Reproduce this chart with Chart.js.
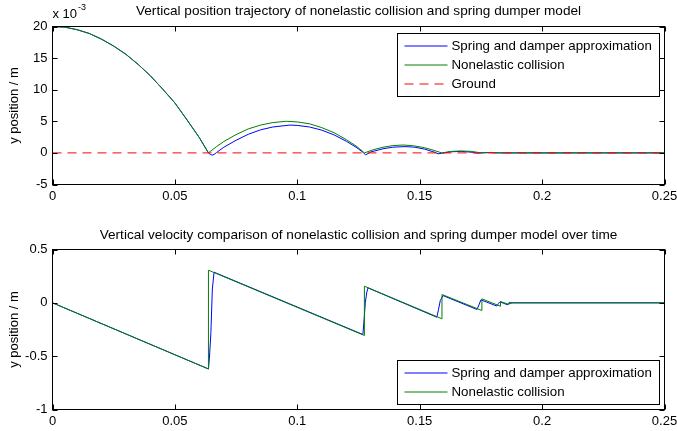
<!DOCTYPE html>
<html>
<head>
<meta charset="utf-8">
<script src="https://cdn.jsdelivr.net/npm/chart.js"></script>
<style>
body { margin: 0; background: #fff; }
canvas { position: absolute; left: 0; }
#posChart { top: 0; }
#velChart { top: 216px; }
</style>
</head>
<body>
<canvas id="posChart" width="677" height="216"></canvas>
<canvas id="velChart" width="677" height="215"></canvas>
<script>
// ############################################ Data #############################################
// time in s, position in 1e-3 m, velocity in m/s

const seriesNames = ['Spring and damper approximation', 'Nonelastic collision', 'Ground'];

const xTicks = [0, 0.05, 0.1, 0.15, 0.2, 0.25];
const xTickLabels = ['0', '0.05', '0.1', '0.15', '0.2', '0.25'];
const posTicks = [-5, 0, 5, 10, 15, 20];
const posTickLabels = ['-5', '0', '5', '10', '15', '20'];
const velTicks = [-1, -0.5, 0, 0.5];
const velTickLabels = ['-1', '-0.5', '0', '0.5'];

const posTimeNonelastic = [0, 0.005, 0.01, 0.015, 0.02, 0.025, 0.03, 0.035, 0.04, 0.045, 0.05, 0.055, 0.06, 0.0637,
    0.067, 0.07, 0.075, 0.08, 0.085, 0.09, 0.0955, 0.1, 0.105, 0.11, 0.115, 0.12, 0.124, 0.1274,
    0.131, 0.135, 0.139, 0.1432, 0.147, 0.151, 0.155, 0.159,
    0.163, 0.167, 0.171, 0.1752, 0.179, 0.183, 0.185, 0.187, 0.25];
const posNonelastic = [20, 19.9, 19.5, 18.9, 18.0, 16.9, 15.6, 14.0, 12.2, 10.1, 7.9, 5.2, 2.4, 0,
    1.0, 1.8, 2.9, 3.8, 4.4, 4.8, 5.0, 4.9, 4.6, 4.0, 3.2, 2.1, 1.1, 0,
    0.5, 0.9, 1.15, 1.25, 1.15, 0.9, 0.5, 0,
    0.24, 0.31, 0.24, 0, 0.08, 0, 0.02, 0, 0];

const posTimeSpring = [0, 0.005, 0.01, 0.015, 0.02, 0.025, 0.03, 0.035, 0.04, 0.045, 0.05, 0.055, 0.06, 0.0637,
    0.0645, 0.0652, 0.066, 0.067, 0.07, 0.075, 0.08, 0.085, 0.09, 0.097, 0.1, 0.105, 0.11, 0.115, 0.12, 0.124, 0.127,
    0.1278, 0.1285, 0.13, 0.135, 0.139, 0.144, 0.148, 0.152, 0.1565, 0.1575, 0.159,
    0.163, 0.167, 0.1715, 0.1735, 0.175, 0.178, 0.181, 0.185, 0.25];
const posSpring = [20, 19.9, 19.5, 18.9, 18.0, 16.9, 15.6, 14.0, 12.2, 10.1, 7.9, 5.2, 2.4, 0,
    -0.25, -0.35, -0.25, 0.05, 0.9, 2.0, 2.95, 3.65, 4.1, 4.4, 4.35, 4.1, 3.6, 2.85, 1.85, 0.9, 0.05,
    -0.3, -0.2, 0.15, 0.65, 0.9, 1.0, 0.9, 0.6, 0.05, -0.15, -0.05,
    0.18, 0.24, 0.1, -0.05, 0, 0.06, 0, 0, 0];

const groundTime = [0, 0.25];
const ground = [0, 0];

const velTimeNonelastic = [0, 0.0637, 0.0637, 0.1274, 0.1274, 0.1591, 0.1591, 0.1754, 0.1754,
    0.183, 0.183, 0.1865, 0.1865, 0.189, 0.25];
const velNonelastic = [0, -0.62, 0.306, -0.306, 0.156, -0.15, 0.078, -0.072, 0.037,
    -0.032, 0.012, -0.015, 0.004, 0, 0];

const velTimeSpring = [0, 0.0637, 0.0641, 0.0647, 0.0653, 0.066, 0.1268, 0.1273, 0.1278, 0.1284, 0.1289,
    0.157, 0.1577, 0.1584, 0.1595, 0.1734, 0.1742, 0.175, 0.1815, 0.1822, 0.1828, 0.1858, 0.1865, 0.1885, 0.25];
const velSpring = [0, -0.62, -0.52, -0.28, 0.13, 0.287, -0.297, -0.15, 0.005, 0.1, 0.14,
    -0.135, -0.06, 0.02, 0.068, -0.062, -0.02, 0.028, -0.03, -0.005, 0.01, -0.018, -0.005, 0, 0];

// ############################################ Helpers #############################################

const FONT = '"Liberation Sans", Arial, sans-serif';
Chart.defaults.font.family = FONT;
Chart.defaults.font.size = 13;
Chart.defaults.color = '#000';

function zip(ts, vs) {
    return ts.map((t, i) => ({ x: t, y: vs[i] }));
}

function line(label, ts, vs, color, order, dash) {
    return {
        label: label,
        data: zip(ts, vs),
        borderColor: color,
        backgroundColor: color,
        borderWidth: 1,
        borderDash: dash || [],
        pointRadius: 0,
        tension: 0,
        fill: false,
        order: order
    };
}

// matlab style axes: full box, inward ticks, title, legend box
const matlabAxes = {
    id: 'matlabAxes',
    afterDatasetsDraw(chart, args, opts) {
        const ctx = chart.ctx;
        const a = chart.chartArea;
        const sx = chart.scales.x, sy = chart.scales.y;
        ctx.save();
        ctx.strokeStyle = '#000';
        ctx.lineWidth = 1;
        ctx.setLineDash([]);
        ctx.strokeRect(a.left, a.top, a.right - a.left, a.bottom - a.top);
        ctx.beginPath();
        sx.ticks.forEach(t => {
            const px = Math.round(sx.getPixelForValue(t.value)) + 0.5;
            ctx.moveTo(px, a.bottom); ctx.lineTo(px, a.bottom - 5);
            ctx.moveTo(px, a.top); ctx.lineTo(px, a.top + 5);
        });
        sy.ticks.forEach(t => {
            const py = Math.round(sy.getPixelForValue(t.value)) + 0.5;
            ctx.moveTo(a.left, py); ctx.lineTo(a.left + 5, py);
            ctx.moveTo(a.right, py); ctx.lineTo(a.right - 5, py);
        });
        ctx.stroke();

        // title
        ctx.fillStyle = '#000';
        ctx.font = '13.6px ' + FONT;
        ctx.textAlign = 'center';
        ctx.textBaseline = 'middle';
        ctx.fillText(opts.title, (a.left + a.right) / 2, opts.titleY);

        if (opts.exponent) {
            ctx.font = '13px ' + FONT;
            ctx.textAlign = 'left';
            ctx.textBaseline = 'alphabetic';
            ctx.fillText('x 10', a.left, 18);
            const w = ctx.measureText('x 10').width;
            ctx.font = '9px ' + FONT;
            ctx.fillText('-3', a.left + w + 1, 10);
        }

        // legend
        const sets = chart.data.datasets;
        const rowH = 19;
        const bw = 262, bh = sets.length * rowH + 6;
        const bx = a.right - 6 - bw;
        const by = opts.legendAt === 'top' ? a.top + 6 : a.bottom - 6 - bh;
        ctx.fillStyle = '#fff';
        ctx.fillRect(bx, by, bw, bh);
        ctx.strokeStyle = '#000';
        ctx.strokeRect(Math.round(bx) + 0.5, Math.round(by) + 0.5, bw, bh);
        ctx.font = '13.3px ' + FONT;
        ctx.textAlign = 'left';
        ctx.textBaseline = 'middle';
        sets.forEach((ds, i) => {
            const cy = Math.round(by + 13 + i * rowH);
            ctx.strokeStyle = ds.borderColor;
            ctx.setLineDash(ds.borderDash || []);
            ctx.beginPath();
            ctx.moveTo(bx + 8, cy);
            ctx.lineTo(bx + 51, cy);
            ctx.stroke();
            ctx.setLineDash([]);
            ctx.fillStyle = '#000';
            ctx.fillText(ds.label, bx + 55, cy);
        });
        ctx.restore();
    }
};

function makeScales(yMin, yMax, yTicks, yTickLabels, xHeight) {
    return {
        x: {
            type: 'linear',
            min: 0,
            max: 0.25,
            afterBuildTicks: s => { s.ticks = xTicks.map(v => ({ value: v })); },
            afterFit: s => { s.height = xHeight; s.paddingLeft = 0; s.paddingRight = 0; },
            ticks: { padding: 4, maxRotation: 0, autoSkip: false, callback: (v, i) => xTickLabels[i] },
            grid: { display: false, drawTicks: false },
            border: { display: false }
        },
        y: {
            min: yMin,
            max: yMax,
            afterBuildTicks: s => { s.ticks = yTicks.map(v => ({ value: v })); },
            afterFit: s => { s.width = 52.5; s.paddingTop = 0; s.paddingBottom = 0; },
            ticks: { padding: 5, autoSkip: false, callback: (v, i) => yTickLabels[i] },
            grid: { display: false, drawTicks: false },
            border: { display: false },
            title: { display: true, text: 'y position / m', padding: { top: 7, bottom: 0 } }
        }
    };
}

// ############################################ Position Chart #############################################

new Chart(document.getElementById('posChart').getContext('2d'), {
    type: 'line',
    data: {
        datasets: [
            line(seriesNames[0], posTimeSpring, posSpring, '#0000ff', 2),
            line(seriesNames[1], posTimeNonelastic, posNonelastic, '#008000', 1),
            line(seriesNames[2], groundTime, ground, '#ff0000', 0, [9, 6])
        ]
    },
    options: {
        responsive: false,
        animation: false,
        devicePixelRatio: 1,
        layout: { padding: { top: 26.5, right: 12.5, left: 0, bottom: 0 } },
        scales: makeScales(-5, 20, posTicks, posTickLabels, 31.5),
        plugins: {
            legend: { display: false },
            tooltip: { enabled: false },
            matlabAxes: {
                title: 'Vertical position trajectory of nonelastic collision and spring dumper model',
                titleY: 11,
                exponent: true,
                legendAt: 'top'
            }
        }
    },
    plugins: [matlabAxes]
});

// ############################################ Velocity Chart #############################################

new Chart(document.getElementById('velChart').getContext('2d'), {
    type: 'line',
    data: {
        datasets: [
            line(seriesNames[0], velTimeSpring, velSpring, '#0000ff', 2),
            line(seriesNames[1], velTimeNonelastic, velNonelastic, '#008000', 1)
        ]
    },
    options: {
        responsive: false,
        animation: false,
        devicePixelRatio: 1,
        layout: { padding: { top: 33.5, right: 12.5, left: 0, bottom: 0 } },
        scales: makeScales(-1, 0.5, velTicks, velTickLabels, 21.5),
        plugins: {
            legend: { display: false },
            tooltip: { enabled: false },
            matlabAxes: {
                title: 'Vertical velocity comparison of nonelastic collision and spring dumper model over time',
                titleY: 19,
                exponent: false,
                legendAt: 'bottom'
            }
        }
    },
    plugins: [matlabAxes]
});
</script>
</body>
</html>
